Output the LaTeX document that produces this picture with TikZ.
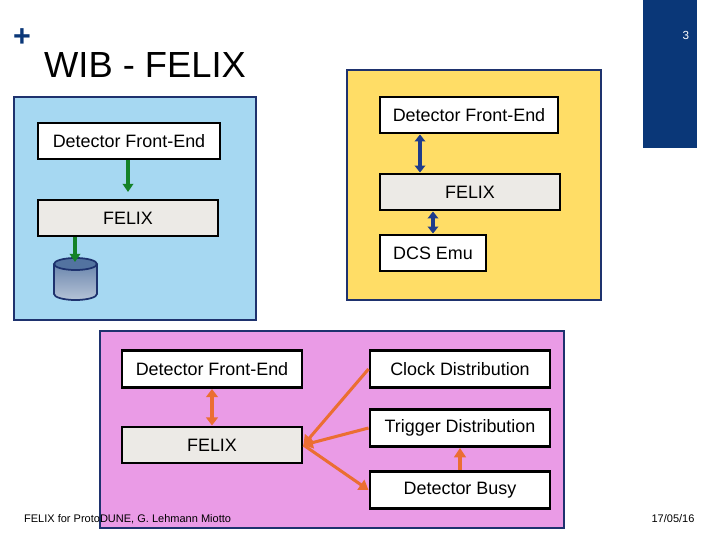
\documentclass[tikz,border=0pt]{standalone}
\usepackage{fontspec}
\setmainfont{Liberation Sans}
\usetikzlibrary{arrows.meta,shapes.geometric}
\definecolor{panelblue}{RGB}{166,216,242}
\definecolor{panelyellow}{RGB}{255,221,102}
\definecolor{panelpink}{RGB}{234,155,230}
\definecolor{frameblue}{RGB}{30,50,110}
\definecolor{slideblue}{RGB}{10,55,120}
\definecolor{felixgray}{RGB}{236,234,230}
\definecolor{arrowgreen}{RGB}{20,130,40}
\definecolor{arrowblue}{RGB}{30,60,140}
\definecolor{arroworange}{RGB}{235,110,50}
\tikzset{
  panel/.style={draw=frameblue, line width=1.5pt},
  box/.style={draw=black, line width=2.5pt, fill=white, inner sep=0pt,
    font=\fontsize{15.3}{17}\selectfont},
  green arrow/.style={arrowgreen, line width=2.6pt, -{Triangle[length=7pt,width=9pt]}},
  blue arrow/.style={arrowblue, line width=2.6pt, {Triangle[length=6pt,width=9pt]}-{Triangle[length=6pt,width=9pt]}},
  orange arrow/.style={arroworange, line width=2.6pt, -{Triangle[length=8pt,width=10pt]}},
}
\begin{document}
\begin{tikzpicture}[x=0.03cm, y=-0.03cm]

    % Page
    \useasboundingbox[fill=white] (0,0) rectangle (720,540);
    \fill[slideblue] (643,0) rectangle (697,148);
    \node[white, font=\fontsize{10}{12}\selectfont] (pagenum) at (686,35) {3};
    \node[slideblue, font=\fontsize{26}{28}\selectfont\bfseries] (plus) at (22,38) {+};
    \node[anchor=west, font=\fontsize{31}{34}\selectfont] (title) at (40,65) {WIB - FELIX};

    % Left panel
    \draw[panel, fill=panelblue] (14,97) rectangle (256,320);
    \node[box, minimum width=182*0.03cm, minimum height=36*0.03cm] (dfeA) at (129,141) {Detector Front-End};
    \node[box, fill=felixgray, minimum width=180*0.03cm, minimum height=36*0.03cm] (felixA) at (128,218) {FELIX};
    \draw[frameblue, line width=1.5pt, top color=slideblue!60, bottom color=slideblue!30!white, shading angle=0]
      (54,264) -- (54,294) arc[start angle=180, end angle=360, x radius=21.5, y radius=-6] -- (97,264);
    \draw[frameblue, line width=1.5pt, fill=slideblue!70] (75.5,264) ellipse[x radius=21.5, y radius=6];
    \coordinate (disk) at (75,262);
    \draw[green arrow] (dfeA.south -| 128,0) -- (128,192);
    \draw[green arrow] (felixA.south -| 75,0) -- (disk);

    % Right panel
    \draw[panel, fill=panelyellow] (347,70) rectangle (601,300);
    \node[box, minimum width=178*0.03cm, minimum height=36*0.03cm] (dfeB) at (469,115) {Detector Front-End};
    \node[box, fill=felixgray, minimum width=180*0.03cm, minimum height=36*0.03cm] (felixB) at (470,192) {FELIX};
    \node[box, minimum width=106*0.03cm, minimum height=36*0.03cm] (dcs) at (433,253) {DCS Emu};
    \draw[blue arrow] (dfeB.south -| 420,0) -- (felixB.north -| 420,0);
    \draw[blue arrow] (felixB.south -| 433,0) -- (dcs.north);

    % Bottom panel
    \draw[panel, fill=panelpink] (100,331) rectangle (564,528);
    \node[box, minimum width=180*0.03cm, minimum height=37*0.03cm] (dfeC) at (212,369) {Detector Front-End};
    \node[box, fill=felixgray, minimum width=180*0.03cm, minimum height=36*0.03cm] (felixC) at (212,445) {FELIX};
    \node[box, minimum width=180*0.03cm, minimum height=37*0.03cm] (clock) at (460,369) {Clock Distribution};
    \node[box, minimum width=180*0.03cm, minimum height=37*0.03cm] (trigger) at (460,428) {Trigger Distribution};
    \node[box, minimum width=180*0.03cm, minimum height=37*0.03cm] (busy) at (460,490) {Detector Busy};
    \draw[orange arrow, {Triangle[length=7pt,width=10pt]}-{Triangle[length=7pt,width=10pt]}] (dfeC) -- (felixC);
    \draw[orange arrow] (clock.west) -- (felixC.east);
    \draw[orange arrow] (trigger.west) -- (felixC.east);
    \draw[orange arrow] (felixC.east) -- (busy.west);
    \draw[orange arrow] (busy) -- (trigger);

    % Footer
    \node[anchor=west, font=\fontsize{9.4}{11}\selectfont] (footer) at (20,519) {FELIX for ProtoDUNE, G. Lehmann Miotto};
    \node[font=\fontsize{9.4}{11}\selectfont] (date) at (673,519) {17/05/16};
\end{tikzpicture}
\end{document}
